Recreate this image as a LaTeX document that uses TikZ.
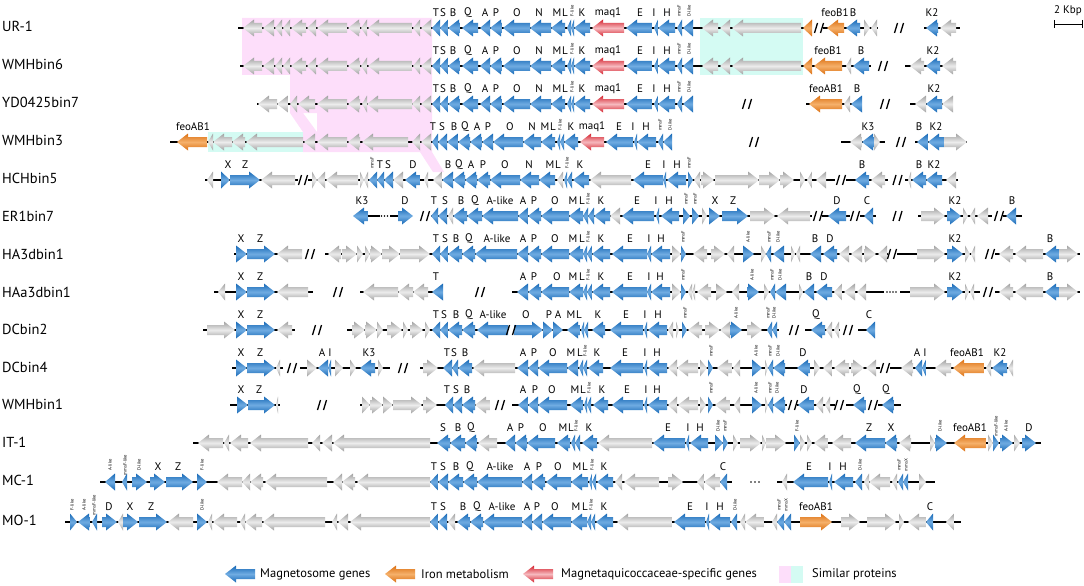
\documentclass[tikz,border=0pt]{standalone}
\usepackage{fontspec}
\setmainfont{PT Sans}

\definecolor{bluD}{RGB}{22,104,182}
\definecolor{bluL}{RGB}{112,172,226}
\definecolor{gryD}{RGB}{160,160,160}
\definecolor{gryL}{RGB}{236,236,236}
\definecolor{orgD}{RGB}{220,112,18}
\definecolor{orgL}{RGB}{245,176,106}
\definecolor{redD}{RGB}{212,34,46}
\definecolor{redL}{RGB}{246,185,190}
\definecolor{pinkB}{RGB}{253,222,250}
\definecolor{cyanB}{RGB}{212,251,243}

\tikzset{
  gb/.style={top color=bluD, bottom color=bluD, middle color=bluL},
  gg/.style={top color=gryD, bottom color=gryD, middle color=gryL},
  go/.style={top color=orgD, bottom color=orgD, middle color=orgL},
  gr/.style={top color=redD, bottom color=redD, middle color=redL},
  bb/.style={line width=1.5pt, black},
  brkline/.style={line width=1.3pt, black},
  gl/.style={font=\fontsize{11}{12}\selectfont, inner sep=0pt},
  tl/.style={font=\fontsize{4.6}{5}\selectfont, rotate=90, inner sep=0pt},
  rowlbl/.style={font=\fontsize{14.5}{16}\selectfont, anchor=west, inner sep=0pt},
  leglbl/.style={font=\fontsize{12.5}{14}\selectfont, anchor=west, inner sep=0pt},
}

% gene arrow: tail x, head x, style
\newcommand{\gene}[3]{%
  \pgfmathsetmacro\gbase{#2-((abs(#2-#1)<11) ? (#2-#1) : (11*sign(#2-#1)))}%
  \path[#3] (#1,-5) -- (\gbase,-5) -- (\gbase,-8.5) -- (#2,0) -- (\gbase,8.5) -- (\gbase,5) -- (#1,5) -- cycle;}
% break mark
\newcommand{\brk}[1]{\draw[brkline] (#1-4.5,5) -- (#1-1.5,-5) (#1+1.5,5) -- (#1+4.5,-5);}

% shared parts of the first rows
\def\greyA{262/243/g,274/263/g,282/275/g,290/283/g,306/291/g,316/307/g,347/317/g,360/348/g,367/361/g,412/368/g,420/413/g,431/421/g}
\def\coreA{440/432/b,448/440/b,460/448/b,478/462/b,490/480/b,502/490/b,530/503/b,551/530/b,565/551/b,571/567/b,574/571/b,590/574/b,624/592/r,652/626/b,658/654/b,675/658/b,682/677/b,693/683/b}
\def\coreL{436/T,443/S,453/B,468/Q,485/A,496/P,517/O,539/N,557/M,565/L,582/K,608/maq1,640/E,654/I,667/H}
\def\coreT{572/F-like,679/mmsF,689/D-like}

\begin{document}
\begin{tikzpicture}[x=1pt, y=-1pt]
\useasboundingbox (0,0) rectangle (1084,586);

% similar-protein bands
\fill[pinkB, even odd rule] (242,18) -- (432,18) -- (432,152) -- (444,172) -- (433,172) -- (420,152)
  -- (303,152) -- (303,132) -- (290,113) -- (290,75) -- (242,75) -- cycle
  (303,113) -- (317,113) -- (317,132) -- cycle;
\fill[cyanB] (700,18) rectangle (803,75);
\fill[cyanB] (208,132) rectangle (303,152);

% strain names
\foreach \yy/\txt [count=\i] in {26/UR-1,64/WMHbin6,102/YD0425bin7,140/WMHbin3,178/HCHbin5,216/ER1bin7,254/HA3dbin1,292/HAa3dbin1,329/DCbin2,367/DCbin4,404/WMHbin1,442/IT-1,480/MC-1,520/MO-1}
  \node[rowlbl] (strain\i) at (2,\yy) {\txt};

% UR-1
\begin{scope}[shift={(0,28)}]
  \foreach \a/\b in {238/812,823/878,924/960} \draw[bb] (\a,0) -- (\b,0);
  \foreach \ta/\hd/\cl in \greyA {\gene{\ta}{\hd}{g\cl}}
  \foreach \ta/\hd/\cl in \coreA {\gene{\ta}{\hd}{g\cl}}
  \foreach \ta/\hd/\cl in {718/702/g,730/720/g,801/732/g,812/803/o,844/827/o,860/846/b,864/870/g,877/871/g,938/926/b,956/940/g} {\gene{\ta}{\hd}{g\cl}}
  \foreach \xx in {819,899} {\brk{\xx}}
  \foreach \xx/\txt [count=\i] in \coreL {\node[gl] (ura\i) at (\xx,-15) {\txt};}
  \foreach \xx/\txt [count=\i] in {835/feoB1,853/B,932/K2} {\node[gl] (urb\i) at (\xx,-15) {\txt};}
  \foreach \xx/\txt [count=\i] in \coreT {\node[tl] (urt\i) at (\xx,-17) {\txt};}
\end{scope}

% WMHbin6
\begin{scope}[shift={(0,66)}]
  \foreach \a/\b in {240/871,905/956} \draw[bb] (\a,0) -- (\b,0);
  \foreach \ta/\hd/\cl in \greyA {\gene{\ta}{\hd}{g\cl}}
  \foreach \ta/\hd/\cl in \coreA {\gene{\ta}{\hd}{g\cl}}
  \foreach \ta/\hd/\cl in {718/702/g,730/720/g,801/732/g,812/803/o,842/814/o,851/846/g,869/853/b,924/910/g,940/926/b,956/942/g} {\gene{\ta}{\hd}{g\cl}}
  \brk{883}
  \foreach \xx/\txt [count=\i] in \coreL {\node[gl] (wsa\i) at (\xx,-15) {\txt};}
  \foreach \xx/\txt [count=\i] in {828/feoB1,861/B,933/K2} {\node[gl] (wsb\i) at (\xx,-15) {\txt};}
  \foreach \xx/\txt [count=\i] in \coreT {\node[tl] (wst\i) at (\xx,-17) {\txt};}
\end{scope}

% YD0425bin7
\begin{scope}[shift={(0,104)}]
  \foreach \a/\b in {257/693,806/862,910/953} \draw[bb] (\a,0) -- (\b,0);
  \foreach \ta/\hd/\cl in {277/258/g,288/277/g,297/290/g,315/298/g,347/317/g,360/348/g,367/362/g,412/367/g,420/412/g,431/421/g} {\gene{\ta}{\hd}{g\cl}}
  \foreach \ta/\hd/\cl in \coreA {\gene{\ta}{\hd}{g\cl}}
  \foreach \ta/\hd/\cl in {842/809/o,850/844/g,862/851/b,926/915/g,942/926/b,953/942/g} {\gene{\ta}{\hd}{g\cl}}
  \foreach \xx in {747,885} {\brk{\xx}}
  \foreach \xx/\txt [count=\i] in \coreL {\node[gl] (yda\i) at (\xx,-15) {\txt};}
  \foreach \xx/\txt [count=\i] in {826/feoAB1,857/B,934/K2} {\node[gl] (ydb\i) at (\xx,-15) {\txt};}
  \foreach \xx/\txt [count=\i] in \coreT {\node[tl] (ydt\i) at (\xx,-17) {\txt};}
\end{scope}

% WMHbin3
\begin{scope}[shift={(0,142)}]
  \foreach \a/\b in {170/672,841/885,915/967} \draw[bb] (\a,0) -- (\b,0);
  \foreach \ta/\hd/\cl in {207/177/o,213/208/g,232/213/g,245/232/g,303/246/g,315/304/g,347/317/g,360/348/g,408/362/g,420/412/g,431/421/g,438/432/b,447/438/b,458/447/b,470/458/b,482/470/b,493/482/b,523/493/b,541/523/b,555/541/b,560/557/b,564/560/b,578/564/b,604/580/r,633/606/b,637/634/b,656/637/b,663/658/b,672/663/b,862/850/g,874/862/b,874/880/g,928/917/b,944/928/b,944/967/g} {\gene{\ta}{\hd}{g\cl}}
  \foreach \xx in {754,901} {\brk{\xx}}
  \foreach \xx/\txt [count=\i] in {193/feoAB1,433/T,442/S,454/B,465/Q,477/A,488/P,510/O,532/N,545/M,553/L,571/K,592/maq1,619/E,633/I,646/H,868/K3,919/B,936/K2} {\node[gl] (w3a\i) at (\xx,-15) {\txt};}
  \foreach \xx/\txt [count=\i] in {560/F-like,660/mmsF,670/D-like} {\node[tl] (w3t\i) at (\xx,-17) {\txt};}
\end{scope}

% HCHbin5
\begin{scope}[shift={(0,180)}]
  \foreach \a/\b in {205/298,308/835,846/888,905/958} \draw[bb] (\a,0) -- (\b,0);
  \foreach \ta/\hd/\cl in {213/207/g,221/230/b,230/260/b,295/261/g,312/317/g,325/317/g,358/326/g,360/364/g,368/364/g,377/369/b,384/377/b,393/384/b,403/393/g,420/405/b,428/424/g,442/433/g,453/442/b,465/453/b,477/465/b,490/477/b,520/490/b,539/520/b,555/539/b,563/557/g,567/564/b,572/567/b,589/573/b,631/590/g,663/633/b,666/663/b,686/667/b,688/693/b,700/694/g,701/714/g,715/759/g,759/780/g,780/794/g,800/805/g,812/807/g,826/816/g,869/855/b,885/871/g,911/908/g,926/912/b,942/926/b,956/946/g} {\gene{\ta}{\hd}{g\cl}}
  \foreach \xx in {303,841,897.5} {\brk{\xx}}
  \foreach \xx/\txt [count=\i] in {228/X,245/Z,380/T,388/S,413/D,448/B,459/Q,471/A,483/P,505/O,529/N,550/M,558/L,580/K,648/E,664/I,677/H,862/B,919/B,934/K2} {\node[gl] (hca\i) at (\xx,-15) {\txt};}
  \foreach \xx/\txt [count=\i] in {372/mmsF,567/F-like,689/mmsF} {\node[tl] (hct\i) at (\xx,-17) {\txt};}
\end{scope}

% ER1bin7
\begin{scope}[shift={(0,216)}]
  \foreach \a/\b in {368/380,390/398,431/812,822/850,860/876,918/992,1003/1022} \draw[bb] (\a,0) -- (\b,0);
  \foreach \xx in {381.5,384.5,387.5} \fill (\xx,0) circle (0.9);
  \foreach \ta/\hd/\cl in {368/353/b,398/413/b,438/431/b,447/438/b,453/448/g,467/453/b,482/467/b,518/482/b,528/518/b,541/528/b,569/541/b,583/569/b,588/583/b,594/588/b,610/594/b,620/610/g,654/622/b,659/656/b,679/661/b,683/690/b,692/699/b,702/707/g,709/720/b,722/748/b,750/775/g,810/777/g,846/828/b,873/864/b,921/945/g,947/961/b,963/968/g,975/970/g,988/977/g,1016/1006/b} {\gene{\ta}{\hd}{g\cl}}
  \foreach \xx in {425,818,855,897.5,999} {\brk{\xx}}
  \foreach \xx/\txt [count=\i] in {362/K3,405/D,434/T,445/S,461/B,475/Q,500/A-like,523/A,534/P,555/O,573/M,582/L,601/K,637/E,656/I,669/H,715/X,733/Z,837/D,867/C,955/K2,1012/B} {\node[gl] (era\i) at (\xx,-15) {\txt};}
  \foreach \xx/\txt [count=\i] in {588/F-like,686/mmsF,695/mmsF} {\node[tl] (ert\i) at (\xx,-17) {\txt};}
\end{scope}

% HA3dbin1
\begin{scope}[shift={(0,254)}]
  \foreach \a/\b in {234/302,325/888,897/975,995/1080} \draw[bb] (\a,0) -- (\b,0);
  \foreach \ta/\hd/\cl in {236/247/b,247/275/b,302/277/g,341/328/g,342/357/g,357/363/g,365/370/g,370/382/g,382/400/g,400/430/g,440/432/b,448/440/b,462/448/b,475/462/b,517/475/b,528/517/b,541/528/b,569/541/b,583/569/b,587/583/b,592/587/b,610/592/b,647/612/b,651/647/b,670/651/b,672/681/g,681/686/b,707/693/g,711/725/g,734/727/g,743/754/b,761/766/g,771/766/b,784/773/b,791/795/g,800/796/g,821/810/b,837/823/b,849/839/g,862/851/g,864/876/g,887/878/g,917/945/g,947/963/b,965/970/g,975/971/g,1013/999/g,1043/1015/g,1059/1045/b,1059/1078/g} {\gene{\ta}{\hd}{g\cl}}
  \foreach \xx in {310,892,990} {\brk{\xx}}
  \foreach \xx/\txt [count=\i] in {241/X,260/Z,436/T,445/S,456/B,469/Q,497/A-like,523/A,534/P,555/O,573/M,582/L,601/K,630/E,649/I,661/H,815/B,830/D,955/K2,1050/B} {\node[gl] (haa\i) at (\xx,-15) {\txt};}
  \foreach \xx/\txt [count=\i] in {588/F-like,683/mmsF,748/A-like,769/mmsF,778/D-like} {\node[tl] (hat\i) at (\xx,-17) {\txt};}
\end{scope}

% HAa3dbin1
\begin{scope}[shift={(0,292)}]
  \foreach \a/\b in {214/313,360/443,512/884,900/980,995/1080} \draw[bb] (\a,0) -- (\b,0);
  \foreach \xx in {887,890,893,896} \fill (\xx,0) circle (0.9);
  \foreach \ta/\hd/\cl in {225/218/g,236/247/b,247/275/b,308/277/g,398/363/g,413/398/g,428/413/g,443/432/b,528/517/b,541/528/b,569/541/b,583/569/b,587/583/b,592/587/b,610/592/b,647/612/b,651/647/b,670/651/b,672/681/g,681/686/b,692/688/g,695/692/g,711/697/g,716/727/g,739/732/g,747/759/b,764/769/g,775/770/b,786/775/b,799/803/g,814/804/b,832/816/b,842/834/g,855/844/g,866/857/g,910/945/g,947/963/b,965/969/g,974/970/g,1013/999/g,1043/1015/g,1059/1045/b,1059/1078/g} {\gene{\ta}{\hd}{g\cl}}
  \foreach \xx in {338,480,988} {\brk{\xx}}
  \foreach \xx/\txt [count=\i] in {241/X,260/Z,436/T,523/A,534/P,557/O,573/M,582/L,601/K,630/E,649/I,660/H,809/B,824/D,955/K2,1050/B} {\node[gl] (hba\i) at (\xx,-15) {\txt};}
  \foreach \xx/\txt [count=\i] in {588/F-like,683/mmsF,752/A-like,772/mmsF,780/D-like} {\node[tl] (hbt\i) at (\xx,-17) {\txt};}
\end{scope}

% DCbin2
\begin{scope}[shift={(0,330)}]
  \foreach \a/\b in {203/295,347/508,514/779,805/840,858/875} \draw[bb] (\a,0) -- (\b,0);
  \foreach \ta/\hd/\cl in {207/235/g,236/247/b,247/275/b,292/277/g,352/365/g,365/377/g,377/383/g,387/402/g,403/408/g,410/423/g,425/430/g,440/432/b,448/440/b,462/448/b,475/462/b,508/477/b,514/543/b,543/553/b,553/563/b,580/567/b,584/581/b,588/584/b,605/592/b,643/610/b,647/644/b,667/648/b,673/668/g,676/679/g,682/687/b,702/688/g,705/720/g,730/720/g,730/742/b,747/762/g,772/767/b,777/772/b,825/811/b,832/826/g,839/834/g,875/866/b} {\gene{\ta}{\hd}{g\cl}}
  \foreach \xx in {317,511,794,848} {\brk{\xx}}
  \foreach \xx/\txt [count=\i] in {241/X,260/Z,436/T,444/S,456/B,469/Q,493/A-like,526/O,549/P,558/A,571/M,579/L,598/K,626/E,645/I,658/H,816/Q,869/C} {\node[gl] (d2a\i) at (\xx,-15) {\txt};}
  \foreach \xx/\txt [count=\i] in {685/mmsF,736/A-like,768/mmsF,774/D-like} {\node[tl] (d2t\i) at (\xx,-17) {\txt};}
\end{scope}

% DCbin4
\begin{scope}[shift={(0,368)}]
  \foreach \a/\b in {232/283,300/390,420/880,890/1013} \draw[bb] (\a,0) -- (\b,0);
  \foreach \ta/\hd/\cl in {236/247/b,247/275/b,280/276/g,307/317/g,328/318/b,331/328/b,335/343/g,350/356/g,375/360/b,378/383/g,423/438/g,452/443/b,458/452/b,472/458/b,515/473/g,528/517/b,538/528/b,567/538/b,578/567/b,583/579/b,587/583/b,603/588/b,643/610/b,647/644/b,667/648/b,677/668/g,698/677/g,700/707/g,708/713/b,732/717/g,740/733/g,752/762/b,765/768/g,773/768/b,785/773/b,810/797/b,814/820/g,832/823/g,849/834/g,851/864/g,876/866/g,913/901/g,922/915/b,926/922/b,951/935/g,984/953/o,991/986/g,1007/992/b,1013/1008/g} {\gene{\ta}{\hd}{g\cl}}
  \foreach \xx in {292,403,885} {\brk{\xx}}
  \foreach \xx/\txt [count=\i] in {241/X,260/Z,322/A,330/I,369/K3,447/T,454/S,465/B,523/A,534/P,553/O,571/M,580/L,597/K,625/E,645/I,657/H,803/D,917/A,925/I,967/feoAB1,1000/K2} {\node[gl] (d4a\i) at (\xx,-15) {\txt};}
  \foreach \xx/\txt [count=\i] in {585/F-like,711/mmsF,756/A-like,770/mmsF,778/D-like} {\node[tl] (d4t\i) at (\xx,-17) {\txt};}
\end{scope}

% WMHbin1
\begin{scope}[shift={(0,405)}]
  \foreach \a/\b in {230/280,360/490,512/787,797/835,846/866,878/901} \draw[bb] (\a,0) -- (\b,0);
  \foreach \ta/\hd/\cl in {237/248/b,248/275/b,278/276/g,362/370/g,370/383/g,383/393/g,393/422/g,423/437/g,453/445/b,462/453/b,475/462/b,490/475/g,528/518/b,538/528/b,567/538/b,583/570/b,587/584/b,591/587/b,608/593/b,643/612/b,647/644/b,667/648/b,677/668/g,698/678/g,700/706/g,708/713/b,730/715/g,740/734/g,752/762/b,765/768/g,773/768/b,785/773/b,814/798/b,823/816/g,830/825/g,866/853/b,894/882/b} {\gene{\ta}{\hd}{g\cl}}
  \foreach \xx in {322,500,793,839,873} {\brk{\xx}}
  \foreach \xx/\txt [count=\i] in {241/X,259/Z,447/T,456/S,467/B,523/A,535/P,552/O,575/M,583/L,602/K,627/E,646/I,657/H,804/D,857/Q,886/Q} {\node[gl] (w1a\i) at (\xx,-15) {\txt};}
  \foreach \xx/\txt [count=\i] in {589/F-like,711/mmsF,756/A-like,770/mmsF,777/D-like} {\node[tl] (w1t\i) at (\xx,-17) {\txt};}
\end{scope}

% IT-1
\begin{scope}[shift={(0,443)}]
  \draw[bb] (193,0) -- (1041,0);
  \foreach \ta/\hd/\cl in {223/198/g,229/224/g,248/230/g,308/250/g,320/312/g,332/322/g,430/333/g,450/437/b,465/450/b,477/465/b,497/478/g,515/505/b,527/515/b,555/527/b,570/557/b,575/571/b,580/575/b,597/582/b,652/598/g,685/653/b,689/686/b,708/690/b,715/723/b,723/728/b,733/738/g,740/761/g,762/766/g,766/786/g,794/800/b,800/805/g,807/812/g,828/814/g,851/832/g,885/855/b,897/885/b,911/899/g,930/935/g,935/947/b,986/954/o,988/993/g,993/999/b,1000/1013/b,1014/1020/g,1022/1036/b} {\gene{\ta}{\hd}{g\cl}}
  \foreach \xx/\txt [count=\i] in {443/S,458/B,471/Q,510/A,521/P,543/O,563/M,571/L,589/K,668/E,688/I,700/H,869/Z,891/X,970/feoAB1,1029/D} {\node[gl] (ita\i) at (\xx,-15) {\txt};}
  \foreach \xx/\txt [count=\i] in {576/F-like,718/D-like,725/mmsF,797/F-like,940/D-like,996/mmsF-like,1006/A-like} {\node[tl] (itt\i) at (\xx,-17) {\txt};}
\end{scope}

% MC-1
\begin{scope}[shift={(0,482)}]
  \foreach \a/\b in {100/732,777/935} \draw[bb] (\a,0) -- (\b,0);
  \foreach \xx in {751,755,759} \fill (\xx,0) circle (0.9);
  \foreach \ta/\hd/\cl in {115/105/b,127/122/b,132/147/b,150/165/b,166/193/b,197/207/b,242/217/g,250/242/g,263/250/g,327/265/g,342/333/g,355/342/g,430/357/g,438/430/b,448/438/b,463/448/b,477/463/b,522/477/b,532/522/b,545/532/b,571/546/b,588/571/b,592/589/b,596/592/b,613/597/b,622/615/g,659/624/g,668/683/g,704/697/g,720/704/g,727/720/b,787/782/g,828/793/b,832/829/b,853/834/b,862/855/b,869/864/g,890/869/g,897/892/g,903/898/b,908/903/b,919/926/g} {\gene{\ta}{\hd}{g\cl}}
  \foreach \xx/\txt [count=\i] in {158/X,178/Z,434/T,443/S,456/B,470/Q,500/A-like,527/A,539/P,558/O,577/M,585/L,604/K,723/C,809/E,830/I,843/H} {\node[gl] (mca\i) at (\xx,-15) {\txt};}
  \foreach \xx/\txt [count=\i] in {110/A-like,125/mmsF-like,139/D-like,202/F-like,592/F-like,860/D-like,899/mmsF,906/mmsX} {\node[tl] (mct\i) at (\xx,-17) {\txt};}
\end{scope}

% MO-1
\begin{scope}[shift={(0,522)}]
  \draw[bb] (65,0) -- (961,0);
  \foreach \ta/\hd/\cl in {70/77/b,90/78/b,97/92/b,102/117/b,123/118/g,123/138/b,139/167/b,193/168/g,197/207/b,212/208/g,237/213/g,245/240/g,262/245/g,325/263/g,337/332/g,348/338/g,430/350/g,438/430/b,447/438/b,455/448/g,470/457/b,483/470/b,522/483/b,532/522/b,542/532/b,571/542/b,587/571/b,591/587/b,595/591/b,613/596/b,672/617/g,705/674/b,709/706/b,730/709/b,737/731/b,745/740/g,764/745/g,777/772/g,784/777/b,791/784/b,800/832/o,841/860/g,867/896/g,899/904/g,926/908/g,933/926/b,954/946/g} {\gene{\ta}{\hd}{g\cl}}
  \foreach \xx/\txt [count=\i] in {109/D,130/X,151/Z,434/T,443/S,463/B,477/Q,502/A-like,527/A,537/P,555/O,576/M,585/L,604/K,690/E,707/I,720/H,816/feoAB1,930/C} {\node[gl] (moa\i) at (\xx,-15) {\txt};}
  \foreach \xx/\txt [count=\i] in {72/F-like,84/A-like,94/mmsF-like,202/D-like,591/F-like,735/D-like,779/mmsF,786/mmsX} {\node[tl] (mot\i) at (\xx,-17) {\txt};}
\end{scope}

% scale bar
\draw[line width=0.8pt] (1054,24) -- (1082,24) (1054,20) -- (1054,28) (1082,20) -- (1082,28);
\node[gl] (kbp) at (1068,11) {2 Kbp};

% legend
\begin{scope}[shift={(0,574)}]
  \gene{255}{225}{gb}
  \node[leglbl] (legmag) at (260,0) {Magnetosome genes};
  \gene{415}{385}{go}
  \node[leglbl] (legiron) at (421,0) {Iron metabolism};
  \gene{553}{523}{gr}
  \node[leglbl] (legspec) at (561,0) {Magnetaquicoccaceae-specific genes};
  \fill[pinkB] (779,-8.5) rectangle (791,8.5);
  \fill[cyanB] (791,-8.5) rectangle (803,8.5);
  \node[leglbl] (legsim) at (812,0) {Similar proteins};
\end{scope}
\end{tikzpicture}
\end{document}
